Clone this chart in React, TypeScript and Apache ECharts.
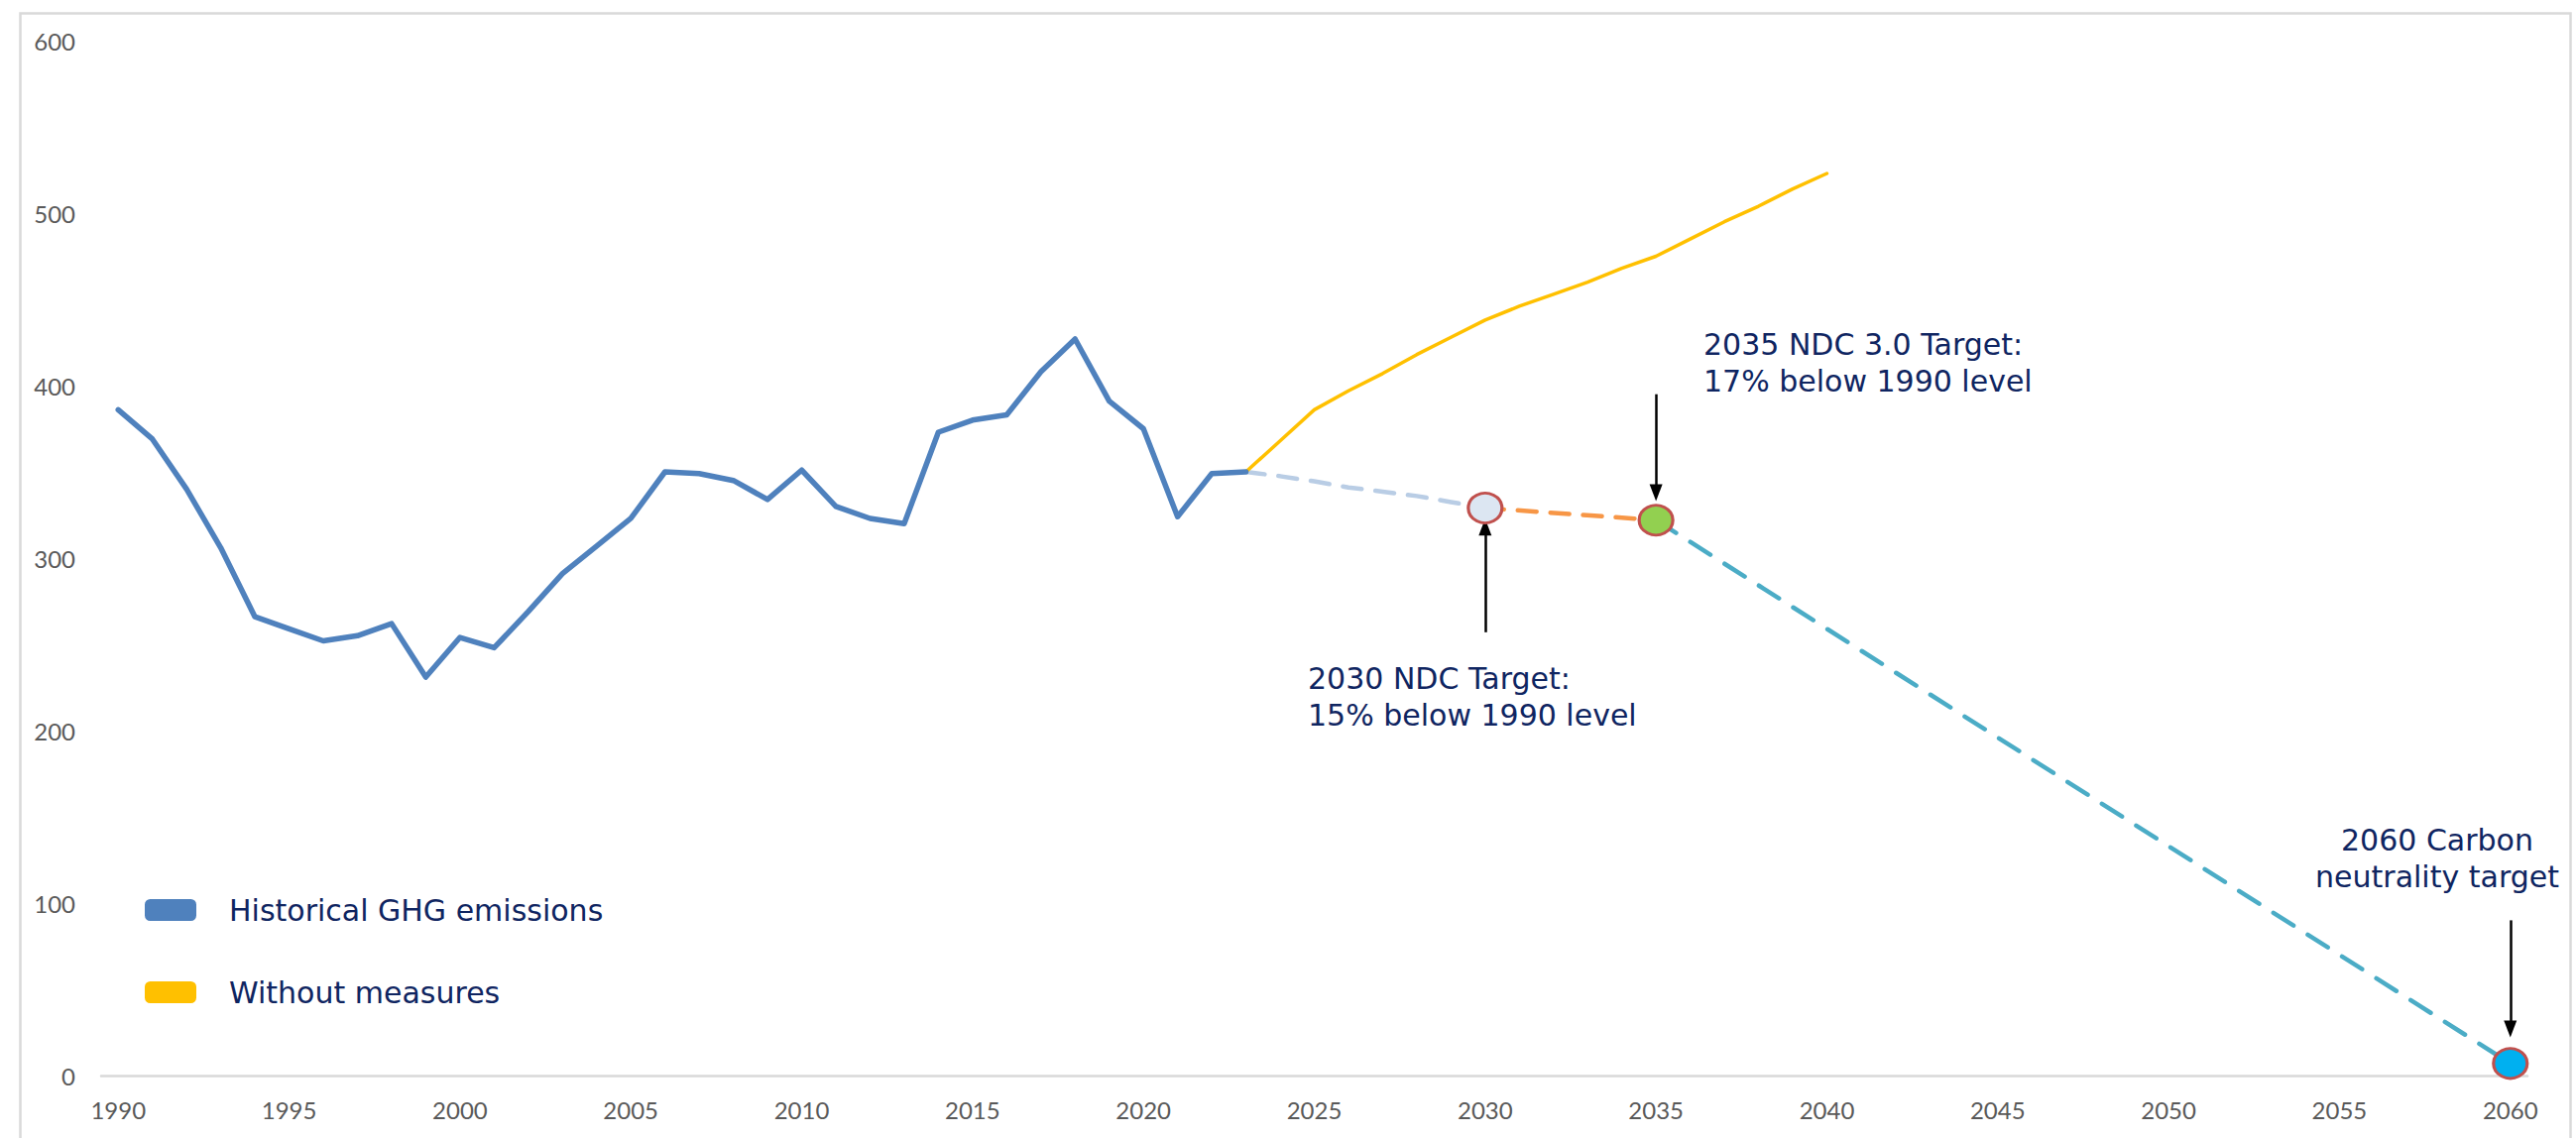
import React, { useEffect, useRef } from "react";
import * as echarts from "echarts";

const years: string[] = [];
for (let y = 1990; y <= 2060; y++) years.push(String(y));

const historicalYears = [
  "1990","1991","1992","1993","1994","1995","1996","1997","1998","1999",
  "2000","2001","2002","2003","2004","2005","2006","2007","2008","2009",
  "2010","2011","2012","2013","2014","2015","2016","2017","2018","2019",
  "2020","2021","2022","2023",
];
const historicalValues = [
  386, 369, 340, 306, 266, 259, 252, 255, 262, 231,
  254, 248, 269, 291, 307, 323, 350, 349, 345, 334,
  351, 330, 323, 320, 373, 380, 383, 408, 427, 391,
  375, 324, 349, 350,
];

const withoutMeasuresYears = [
  "2023","2024","2025","2026","2027","2028","2029","2030","2031",
  "2032","2033","2034","2035","2036","2037","2038","2039","2040",
];
const withoutMeasuresValues = [
  350, 368, 386, 397, 407, 418, 428, 438, 446,
  453, 460, 468, 475, 485, 495, 504, 514, 523,
];

const path2030Years = ["2023","2024","2025","2026","2027","2028","2029","2030"];
const path2030Values = [350, 347.5, 344.5, 341, 338.5, 336, 332.5, 329];

const path2035Years = ["2030", "2035"];
const path2035Values = [329, 322];

const path2060Years = ["2035", "2060"];
const path2060Values = [322, 7];

const targetYears = ["2030", "2035", "2060"];
const targetValues = [329, 322, 7];
const targetFills = ["#dce6f2", "#92d050", "#00b0f0"];

// arrows: [year, fromValue, toValue]
const arrowYears = ["2030", "2035", "2060"];
const arrowFrom = [257, 395, 90];
const arrowTo = [318, 338, 27];

const yTicks = [0, 100, 200, 300, 400, 500, 600];

const legendNames = ["Historical GHG emissions", "Without measures"];

const annotations = [
  { text: "2035 NDC 3.0 Target:\n17% below 1990 level", x: 1718, y: 366, align: "left" },
  { text: "2030 NDC Target:\n15% below 1990 level", x: 1319, y: 703, align: "left" },
  { text: "2060 Carbon\nneutrality target", x: 2458, y: 866, align: "center" },
];

function toSeries(ys: string[], vs: number[]) {
  const map: Record<string, number> = {};
  ys.forEach((y, i) => (map[y] = vs[i]));
  return years.map((y) => (y in map ? map[y] : null));
}

const NAVY = "#0f2561";
const TEXT_FONT = "'DejaVu Sans', sans-serif";
const TEXT_SIZE = 30;
const AXIS_FONT = "Lato, sans-serif";

export default function App() {
  const ref = useRef<HTMLDivElement>(null);
  useEffect(() => {
    document.body.style.margin = "0";
    if (!ref.current) return;
    const chart = echarts.init(ref.current, undefined, { renderer: "svg" });
    const option: any = {
      animation: false,
      backgroundColor: "#ffffff",
      grid: { left: 102, right: 49, top: 41, bottom: 63, containLabel: false },
      legend: {
        show: true,
        data: legendNames,
        orient: "vertical",
        left: 141,
        top: 896,
        icon: "roundRect",
        itemWidth: 52,
        itemHeight: 22,
        itemGap: 49,
        selectedMode: false,
        textStyle: {
          color: NAVY,
          fontFamily: TEXT_FONT,
          fontSize: TEXT_SIZE,
          lineHeight: 34,
          padding: [0, 0, 0, 28],
        },
      },
      xAxis: {
        type: "category",
        data: years,
        boundaryGap: true,
        axisLine: { show: true, lineStyle: { color: "#d9d9d9", width: 2.5 } },
        axisTick: { show: false },
        axisLabel: {
          interval: 4,
          color: "#595959",
          fontFamily: AXIS_FONT,
          fontSize: 24,
          margin: 22,
        },
        splitLine: { show: false },
      },
      yAxis: {
        type: "value",
        min: yTicks[0],
        max: yTicks[yTicks.length - 1],
        interval: 100,
        axisLine: { show: false },
        axisTick: { show: false },
        splitLine: { show: false },
        axisLabel: {
          color: "#595959",
          fontFamily: AXIS_FONT,
          fontSize: 24,
          margin: 26,
        },
      },
      graphic: [
        {
          type: "rect",
          left: 18,
          top: 11,
          shape: { x: 0, y: 0, width: 2572, height: 1200 },
          style: { fill: "none", stroke: "#d9d9d9", lineWidth: 2.5 },
          silent: true,
          z: -10,
        },
        ...annotations.map((a) => ({
          type: "text",
          x: a.x,
          y: a.y,
          silent: true,
          z: 100,
          style: {
            text: a.text,
            fill: NAVY,
            fontFamily: TEXT_FONT,
            fontSize: TEXT_SIZE,
            lineHeight: 37,
            align: a.align,
            verticalAlign: "middle",
          },
        })),
      ],
      series: [
        {
          name: legendNames[0],
          type: "line",
          data: toSeries(historicalYears, historicalValues),
          color: "#4f81bd",
          showSymbol: false,
          symbol: "none",
          lineStyle: { color: "#4f81bd", width: 5.5, cap: "round", join: "round" },
          z: 5,
        },
        {
          name: legendNames[1],
          type: "line",
          data: toSeries(withoutMeasuresYears, withoutMeasuresValues),
          color: "#ffc000",
          showSymbol: false,
          symbol: "none",
          lineStyle: { color: "#ffc000", width: 3.5, cap: "round", join: "round" },
          z: 4,
        },
        {
          name: "Path to 2030",
          type: "line",
          data: toSeries(path2030Years, path2030Values),
          showSymbol: false,
          symbol: "none",
          connectNulls: true,
          lineStyle: { color: "#b9cde5", width: 4.5, type: [19, 14], cap: "round" },
          z: 3,
        },
        {
          name: "Path to 2035",
          type: "line",
          data: toSeries(path2035Years, path2035Values),
          showSymbol: false,
          symbol: "none",
          connectNulls: true,
          lineStyle: { color: "#f79646", width: 4.5, type: [19, 14], cap: "round" },
          z: 3,
        },
        {
          name: "Path to 2060",
          type: "line",
          data: toSeries(path2060Years, path2060Values),
          showSymbol: false,
          symbol: "none",
          connectNulls: true,
          lineStyle: { color: "#4bacc6", width: 4.5, type: [24, 17], cap: "round" },
          z: 3,
        },
        {
          name: "Targets",
          type: "scatter",
          symbol: "circle",
          symbolSize: [34, 30],
          data: targetYears.map((y, i) => ({
            value: [y, targetValues[i]],
            itemStyle: {
              color: targetFills[i],
              borderColor: "#c0504d",
              borderWidth: 3,
              opacity: 1,
            },
          })),
          z: 10,
          markLine: {
            silent: true,
            symbol: ["none", "triangle"],
            symbolSize: [13, 17],
            label: { show: false },
            lineStyle: { color: "#000000", width: 2.5, type: "solid" },
            emphasis: { disabled: true },
            data: arrowYears.map((y, i) => [
              { coord: [y, arrowFrom[i]] },
              { coord: [y, arrowTo[i]] },
            ]),
          },
        },
      ],
    };
    chart.setOption(option);
    return () => chart.dispose();
  }, []);
  return <div ref={ref} style={{ width: 2598, height: 1148 }} />;
}
